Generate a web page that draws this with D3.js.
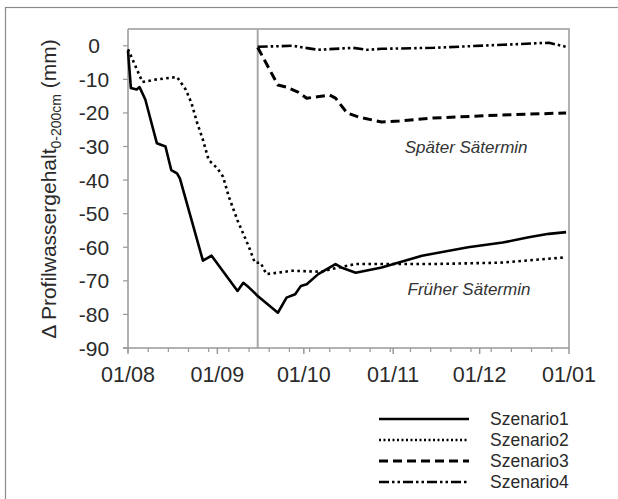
<!DOCTYPE html>
<html>
<head>
<meta charset="utf-8">
<script src="https://cdn.jsdelivr.net/npm/d3@7"></script>
<style>
  body { margin: 0; background: #fff; }
  text { font-family: "Liberation Sans", Arial, sans-serif; }
</style>
</head>
<body>
<div id="chart"></div>
<script>
// series data (date mm-dd, change in mm)
var s1Dates = ["08-01","08-02","08-04","08-05","08-07","08-11","08-14","08-16","08-18","08-19","08-27","08-30","09-08","09-10","09-12","09-15","09-22","09-25","09-28","09-30","10-02","10-06","10-12","10-14","10-19","10-28","11-11","11-27","12-09","12-18","12-25","12-31"];
var s1Values = [-1.5,-12.6,-13,-12.3,-16,-29,-30,-37,-38,-39.5,-64,-62.5,-73,-70.6,-72,-74.5,-79.5,-75,-74,-71.5,-71,-68,-65,-66,-67.6,-66,-62.5,-60,-58.6,-57,-56,-55.5];

var s2Dates = ["08-01","08-06","08-11","08-18","08-21","08-23","08-25","08-27","08-29","09-01","09-03","09-05","09-08","09-12","09-14","09-16","09-18","09-27","10-07","10-11","10-19","11-14","12-08","12-31"];
var s2Values = [-1,-10.8,-10,-9.3,-13,-17,-23,-28,-34,-36.5,-39,-45,-52,-60,-64.6,-64.6,-68,-67,-67.3,-66.4,-65,-65,-64.6,-63];

var s3Dates = ["09-15","09-22","09-25","09-29","10-02","10-10","10-12","10-16","10-20","10-28","11-03","11-15","12-09","12-31"];
var s3Values = [-0.5,-11.7,-12.3,-13.8,-15.6,-14.7,-15.6,-20,-21.2,-22.7,-22.4,-21.5,-20.6,-20];

var s4Dates = ["09-15","09-27","10-06","10-18","10-23","10-28","11-15","12-09","12-25","12-31"];
var s4Values = [-0.3,0,-1.2,-0.6,-1.2,-0.9,-0.6,0.3,0.9,-0.3];

var seriesNames = ["Szenario1","Szenario2","Szenario3","Szenario4"];
var yTicks = [0,-10,-20,-30,-40,-50,-60,-70,-80,-90];
var monthTicks = ["2011-08-01","2011-09-01","2011-10-01","2011-11-01","2011-12-01","2012-01-01"];
var sowingDate = "09-15";
var notes = [
    { label: "Später Sätermin", date: "11-05", value: -32 },
    { label: "Früher Sätermin", date: "11-06", value: -74.3 }
];

var width = 618, height = 499;
var parseDay = function (md) { return d3.timeParse("%Y-%m-%d")("2011-" + md); };
var parseFull = d3.timeParse("%Y-%m-%d");

var svg = d3.select("#chart").append("svg")
    .attr("width", width).attr("height", height);

// outer frame (only top and left edges fall inside the picture)
svg.append("rect")
    .attr("x", 5.5).attr("y", 7.5)
    .attr("width", 700).attr("height", 600)
    .attr("fill", "none").attr("stroke", "#8a8a8a").attr("stroke-width", 1.2);

var x = d3.scaleTime()
    .domain([parseFull("2011-08-01"), parseFull("2012-01-01")])
    .range([128, 569]);
var y = d3.scaleLinear().domain([-90, 5]).range([348, 29]);

// plot frame: top and right edges
svg.append("path")
    .attr("d", "M" + x.range()[0] + "," + y(5) + "H" + x.range()[1] + "V" + y(-90))
    .attr("fill", "none").attr("stroke", "#999").attr("stroke-width", 1.5);

// vertical line at sowing date
svg.append("line")
    .attr("x1", x(parseDay(sowingDate))).attr("x2", x(parseDay(sowingDate)))
    .attr("y1", y(5)).attr("y2", y(-90))
    .attr("stroke", "#a8a8a8").attr("stroke-width", 2);

// y axis
var yAxis = svg.append("g").attr("transform", "translate(" + x.range()[0] + ",0)");
yAxis.append("line").attr("y1", y(5)).attr("y2", y(-90))
    .attr("stroke", "#999").attr("stroke-width", 1.5);
yAxis.selectAll(".ytick").data(yTicks).enter().append("line")
    .attr("x1", -5).attr("x2", 0)
    .attr("y1", function (d) { return y(d); }).attr("y2", function (d) { return y(d); })
    .attr("stroke", "#999").attr("stroke-width", 1.2);
yAxis.selectAll(".ylab").data(yTicks).enter().append("text")
    .attr("x", -34).attr("y", function (d) { return y(d) + 7.5; })
    .attr("text-anchor", "middle")
    .attr("font-size", 21).attr("fill", "#2a2a2a")
    .text(function (d) { return d; });

// x axis: weekly minor ticks plus month ticks
var xAxis = svg.append("g").attr("transform", "translate(0," + y(-90) + ")");
xAxis.append("line").attr("x1", x.range()[0] - 5).attr("x2", x.range()[1])
    .attr("stroke", "#999").attr("stroke-width", 1.5);
var weeks = d3.range(0, 153, 7).map(function (d) { return d3.timeDay.offset(parseFull("2011-08-01"), d); });
xAxis.selectAll(".wtick").data(weeks).enter().append("line")
    .attr("x1", function (d) { return x(d); }).attr("x2", function (d) { return x(d); })
    .attr("y1", 0).attr("y2", 4)
    .attr("stroke", "#999").attr("stroke-width", 1.2);
xAxis.selectAll(".mtick").data(monthTicks).enter().append("line")
    .attr("x1", function (d) { return x(parseFull(d)); }).attr("x2", function (d) { return x(parseFull(d)); })
    .attr("y1", 0).attr("y2", 6)
    .attr("stroke", "#999").attr("stroke-width", 1.5);
xAxis.selectAll(".xlab").data(monthTicks).enter().append("text")
    .attr("x", function (d) { return x(parseFull(d)); }).attr("y", 34)
    .attr("text-anchor", "middle")
    .attr("font-size", 21.5).attr("fill", "#2a2a2a")
    .text(function (d) { return d3.timeFormat("%d/%m")(parseFull(d)); });

// y axis title with subscript
var ytitle = svg.append("text")
    .attr("transform", "translate(56," + 189 + ") rotate(-90)")
    .attr("text-anchor", "middle")
    .attr("font-size", 21).attr("fill", "#2a2a2a");
ytitle.append("tspan").text("Δ Profilwassergehalt");
ytitle.append("tspan").attr("font-size", 14).attr("dy", 5).text("0-200cm");
ytitle.append("tspan").attr("dy", -5).text(" (mm)");

// line styles
var styles = [
    { dash: null, width: 2.6 },
    { dash: "2.6,3.4", width: 2.6 },
    { dash: "9,5", width: 3 },
    { dash: "10,3,2.5,3,2.5,3", width: 2.6 }
];
var allSeries = [
    { dates: s1Dates, values: s1Values },
    { dates: s2Dates, values: s2Values },
    { dates: s3Dates, values: s3Values },
    { dates: s4Dates, values: s4Values }
];

var line = d3.line()
    .x(function (d) { return x(d.date); })
    .y(function (d) { return y(d.value); });

allSeries.forEach(function (s, i) {
    var pts = s.dates.map(function (d, j) { return { date: parseDay(d), value: s.values[j] }; });
    svg.append("path").datum(pts)
        .attr("d", line)
        .attr("fill", "none").attr("stroke", "#000")
        .attr("stroke-width", styles[i].width)
        .attr("stroke-dasharray", styles[i].dash)
        .attr("stroke-linejoin", "round");
});

// annotations
svg.selectAll(".note").data(notes).enter().append("text")
    .attr("x", function (d) { return x(parseDay(d.date)); })
    .attr("y", function (d) { return y(d.value); })
    .attr("font-size", 17).attr("font-style", "italic").attr("fill", "#333")
    .text(function (d) { return d.label; });

// legend
var legend = svg.append("g").attr("transform", "translate(379,419)");
seriesNames.forEach(function (name, i) {
    legend.append("line")
        .attr("x1", 0).attr("x2", 90)
        .attr("y1", i * 21).attr("y2", i * 21)
        .attr("stroke", "#000").attr("stroke-width", styles[i].width)
        .attr("stroke-dasharray", i === 1 ? "2,2.5" : styles[i].dash);
    legend.append("text")
        .attr("x", 111).attr("y", i * 21 + 6)
        .attr("font-size", 17.5).attr("fill", "#2a2a2a")
        .text(name);
});
</script>
</body>
</html>
